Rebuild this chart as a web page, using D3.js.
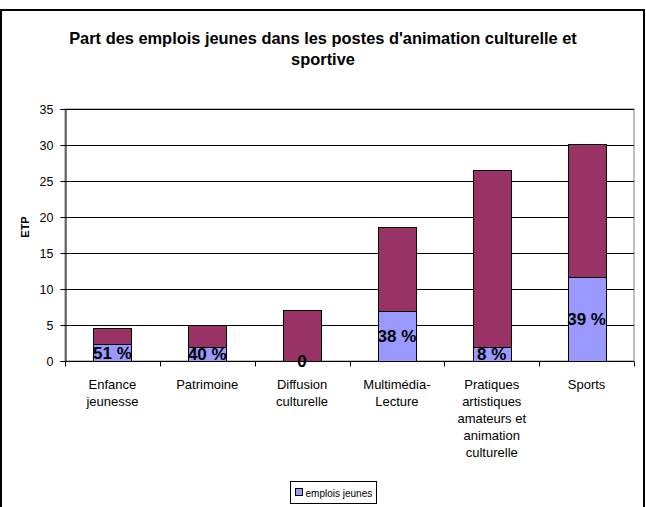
<!doctype html>
<html lang="fr">
<head>
  <meta charset="utf-8">
  <title>Part des emplois jeunes</title>
  <script src="https://d3js.org/d3.v7.min.js"></script>
  <style>
    body { margin: 0; background: #fff; }
    svg text { font-family: "Liberation Sans", Arial, sans-serif; fill: #000; }
    .grid line { stroke: #000; stroke-width: 1; }
    .bar { stroke: #000; stroke-width: 1; }
    .pct { font-size: 17px; font-weight: bold; text-anchor: middle; }
  </style>
</head>
<body>
  <div id="chart"></div>
  <script>
    // categories (x axis), each label split over lines
    const categories = [
      ['Enfance', 'jeunesse'],
      ['Patrimoine'],
      ['Diffusion', 'culturelle'],
      ['Multimédia-', 'Lecture'],
      ['Pratiques', 'artistiques', 'amateurs et', 'animation', 'culturelle'],
      ['Sports']
    ];
    // ETP held by "emplois jeunes" (blue, bottom)
    const emploisJeunes = [2.3, 2.0, 0, 7.0, 2.0, 11.6];
    // remaining ETP (maroon, stacked on top)
    const autres = [2.25, 3.0, 7.05, 11.65, 24.5, 18.5];
    // labels written on the blue segments
    const pctLabels = ['51 %', '40 %', '0', '38 %', '8 %', '39 %'];
    const yTicks = [0, 5, 10, 15, 20, 25, 30, 35];

    const width = 646, height = 507;
    const margin = { top: 109, right: 12, bottom: 145, left: 65 };
    const plotW = 634 - margin.left;
    const plotH = 361 - margin.top;

    const svg = d3.select('#chart').append('svg')
      .attr('width', width)
      .attr('height', height);

    // outer chart border
    svg.append('rect')
      .attr('x', 1).attr('y', 10)
      .attr('width', 643).attr('height', 500)
      .attr('fill', '#fff')
      .attr('stroke', '#000')
      .attr('stroke-width', 2);

    // title
    const title = svg.append('text')
      .attr('text-anchor', 'middle')
      .style('font-size', '16.4px')
      .style('font-weight', 'bold');
    title.append('tspan').attr('x', 323).attr('y', 44)
      .text("Part des emplois jeunes dans les postes d'animation culturelle et");
    title.append('tspan').attr('x', 323).attr('y', 65).text('sportive');

    const g = svg.append('g')
      .attr('transform', `translate(${margin.left},${margin.top})`);

    const x = d3.scaleBand()
      .domain(d3.range(categories.length))
      .range([0, plotW])
      .paddingInner(0.6)
      .paddingOuter(0.3);

    const y = d3.scaleLinear()
      .domain([0, 35])
      .range([plotH, 0]);

    // plot area border (grey)
    g.append('rect')
      .attr('width', plotW).attr('height', plotH)
      .attr('fill', '#fff')
      .attr('stroke', '#808080');

    // gridlines
    g.append('g').attr('class', 'grid')
      .selectAll('line')
      .data(yTicks.filter(d => d > 0))
      .join('line')
      .attr('x1', 0).attr('x2', plotW)
      .attr('y1', d => Math.round(y(d)) + 0.5)
      .attr('y2', d => Math.round(y(d)) + 0.5);

    // stacked data
    const rows = categories.map((c, i) => ({ i, ej: emploisJeunes[i], autres: autres[i] }));
    const stack = d3.stack().keys(['ej', 'autres'])(rows);
    const colors = { ej: '#9999ff', autres: '#993366' };

    g.append('g').selectAll('g')
      .data(stack)
      .join('g')
      .attr('fill', d => colors[d.key])
      .selectAll('rect')
      .data(d => d.filter(s => s[1] - s[0] > 0))
      .join('rect')
      .attr('class', 'bar')
      .attr('x', d => Math.round(x(d.data.i)) + 0.5)
      .attr('width', Math.round(x.bandwidth()))
      .attr('y', d => Math.round(y(d[1])) + 0.5)
      .attr('height', d => Math.round(y(d[0])) - Math.round(y(d[1])));

    // x axis
    const xAxis = g.append('g')
      .attr('transform', `translate(0,${plotH + 0.5})`);
    xAxis.append('line')
      .attr('x1', 0).attr('x2', plotW)
      .attr('stroke', '#000');
    xAxis.selectAll('.xt')
      .data(d3.range(categories.length + 1))
      .join('line')
      .attr('x1', d => Math.round(d * plotW / categories.length) + 0.5)
      .attr('x2', d => Math.round(d * plotW / categories.length) + 0.5)
      .attr('y1', 0).attr('y2', 5)
      .attr('stroke', '#000');

    const xLabels = xAxis.selectAll('text.xl')
      .data(categories)
      .join('text')
      .attr('class', 'xl')
      .attr('text-anchor', 'middle')
      .style('font-size', '13px')
      .attr('fill', '#000');
    xLabels.selectAll('tspan')
      .data((d, i) => d.map(l => ({ l, i })))
      .join('tspan')
      .attr('x', d => x(d.i) + x.bandwidth() / 2)
      .attr('y', (d, j) => 27 + j * 17)
      .text(d => d.l);

    // y axis
    const yAxis = g.append('g')
      .attr('transform', 'translate(0.5,0)')
      .call(d3.axisLeft(y).tickValues(yTicks).tickSize(5).tickPadding(7));
    yAxis.select('.domain').attr('stroke', '#000');
    yAxis.selectAll('.tick line').attr('stroke', '#000');
    yAxis.selectAll('.tick text').style('font-size', '12.5px').attr('fill', '#000');

    // y axis title
    svg.append('text')
      .attr('transform', `translate(29,227) rotate(-90)`)
      .attr('text-anchor', 'middle')
      .style('font-size', '11px')
      .style('font-weight', 'bold')
      .text('ETP');

    // percentage labels
    g.append('g').selectAll('text')
      .data(rows)
      .join('text')
      .attr('class', 'pct')
      .attr('x', d => x(d.i) + x.bandwidth() / 2)
      .attr('y', d => y(d.ej / 2))
      .attr('dy', '0.36em')
      .text((d, i) => pctLabels[i]);

    // legend
    const legend = svg.append('g').attr('transform', 'translate(290.5,481.5)');
    legend.append('rect')
      .attr('width', 86).attr('height', 22)
      .attr('fill', '#fff').attr('stroke', '#000');
    legend.append('rect')
      .attr('x', 5).attr('y', 7)
      .attr('width', 7).attr('height', 7)
      .attr('fill', colors.ej).attr('stroke', '#000');
    legend.append('text')
      .attr('x', 15).attr('y', 15)
      .style('font-size', '10px')
      .text('emplois jeunes');
  </script>
</body>
</html>
